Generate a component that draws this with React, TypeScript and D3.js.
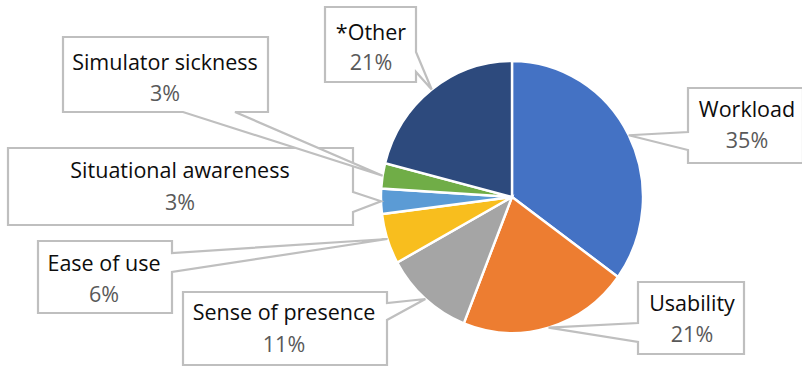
import React from "react";
import * as d3 from "d3";

const categories = [
  "Workload",
  "Usability",
  "Sense of presence",
  "Ease of use",
  "Situational awareness",
  "Simulator sickness",
  "*Other",
];
const values = [35, 21, 11, 6, 3, 3, 21];
const percentLabels = ["35%", "21%", "11%", "6%", "3%", "3%", "21%"];
const colors = ["#4472C4", "#ED7D31", "#A5A5A5", "#F8BE1E", "#5B9BD5", "#70AD47", "#2D4A7D"];

// callout layout: box, side the pointer leaves from, and pointer base span
type Callout = { x0: number; y0: number; x1: number; y1: number; side: "left" | "right" | "bottom"; a: number; b: number; cx: number; l1: number; l2: number };
const callouts: Callout[] = [
  { x0: 688, y0: 88, x1: 803, y1: 163, side: "left", a: 132, b: 150, cx: 747, l1: 117, l2: 148 },
  { x0: 638, y0: 282, x1: 744, y1: 354, side: "left", a: 323, b: 342, cx: 692, l1: 311, l2: 342 },
  { x0: 183, y0: 292, x1: 387, y1: 365, side: "right", a: 303, b: 320, cx: 284, l1: 320, l2: 352 },
  { x0: 38, y0: 241, x1: 172, y1: 313, side: "right", a: 253, b: 272, cx: 104, l1: 271, l2: 302 },
  { x0: 8, y0: 148, x1: 353, y1: 225, side: "right", a: 192, b: 212, cx: 180, l1: 178, l2: 210 },
  { x0: 63, y0: 37, x1: 268, y1: 112, side: "bottom", a: 183, b: 235, cx: 165, l1: 70, l2: 101 },
  { x0: 325, y0: 7, x1: 416, y1: 82, side: "right", a: 52, b: 72, cx: 371, l1: 40, l2: 70 },
];

const W = 802;
const H = 366;
const cx = 512;
const cy = 197;
const rx = 131;
const ry = 136;

function calloutPath(c: Callout, tx: number, ty: number) {
  const p: [number, number][] = [];
  p.push([c.x0, c.y0]);
  p.push([c.x1, c.y0]);
  if (c.side === "right") {
    p.push([c.x1, c.a], [tx, ty], [c.x1, c.b]);
  }
  p.push([c.x1, c.y1]);
  if (c.side === "bottom") {
    p.push([c.b, c.y1], [tx, ty], [c.a, c.y1]);
  }
  p.push([c.x0, c.y1]);
  if (c.side === "left") {
    p.push([c.x0, c.b], [tx, ty], [c.x0, c.a]);
  }
  return "M" + p.map((q) => q.join(",")).join("L") + "Z";
}

export default function App() {
  const pie = d3
    .pie<number>()
    .sort(null)
    .value((d) => d)(values);
  const arc = d3.arc<d3.PieArcDatum<number>>().innerRadius(0).outerRadius(rx);
  const font = "'Open Sans', sans-serif";

  return (
    <svg width={W} height={H} style={{ position: "absolute", left: 0, top: 0, background: "#fff" }}>
      <rect width={W} height={H} fill="#fff" />
      <g transform={`translate(${cx},${cy}) scale(1,${ry / rx})`}>
        {pie.map((s, i) => (
          <path key={i} d={arc(s) || ""} fill={colors[i]} stroke="#fff" strokeWidth={2.4} />
        ))}
      </g>
      {pie.map((s, i) => {
        const c = callouts[i];
        const m = (s.startAngle + s.endAngle) / 2;
        const tx = cx + rx * Math.sin(m);
        const ty = cy - ry * Math.cos(m);
        return (
          <g key={i}>
            <path d={calloutPath(c, tx, ty)} fill="#fff" stroke="#BFBFBF" strokeWidth={2.2} strokeLinejoin="miter" />
            <text x={c.cx} y={c.l1} textAnchor="middle" fontFamily={font} fontSize={21.5} fill="#0d0d0d">
              {categories[i]}
            </text>
            <text x={c.cx} y={c.l2} textAnchor="middle" fontFamily={font} fontSize={21.5} fill="#595959">
              {percentLabels[i]}
            </text>
          </g>
        );
      })}
    </svg>
  );
}
